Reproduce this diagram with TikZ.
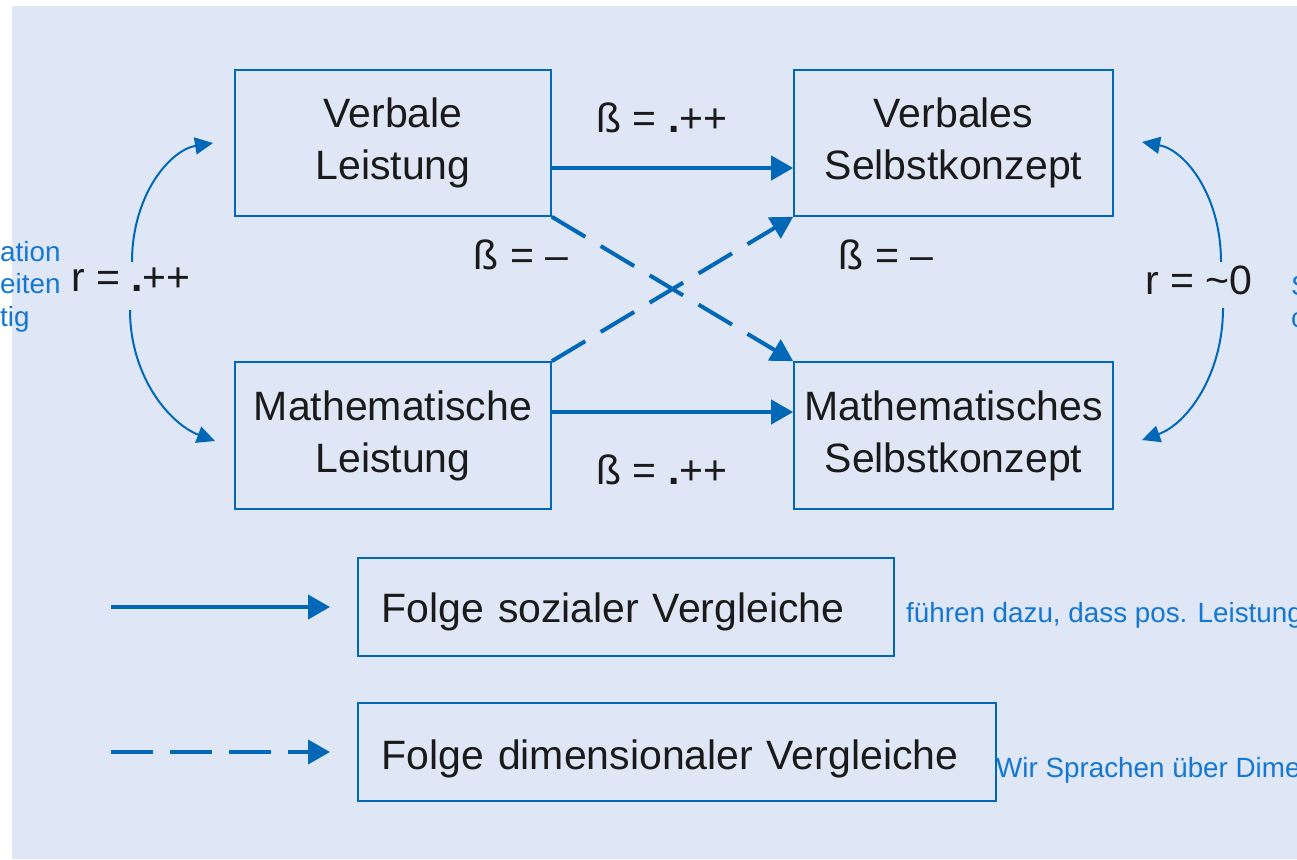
\documentclass[tikz,border=0pt]{standalone}
\usepackage{fontspec}
\setmainfont{Liberation Sans}
\usetikzlibrary{arrows.meta}
\definecolor{panel}{RGB}{223,230,245}
\definecolor{dblue}{RGB}{0,104,183}
\definecolor{tblue}{RGB}{20,120,210}
\definecolor{ink}{RGB}{26,26,26}
\begin{document}
\begin{tikzpicture}[x=1pt,y=-1pt,
 box/.style={draw=dblue,line width=1.6pt,inner sep=0pt,align=center,
   font=\fontsize{41}{52}\selectfont,text=ink},
 legbox/.style={draw=dblue,line width=1.6pt,inner xsep=24pt,inner ysep=0pt,
   minimum height=98pt,align=left,anchor=west,text depth=0pt,
   font=\fontsize{41}{52}\selectfont,text=ink},
 lbl/.style={font=\fontsize{41}{52}\selectfont,text=ink,inner sep=0pt},
 note/.style={font=\fontsize{27.8}{32.5}\selectfont,text=tblue,inner sep=0pt,anchor=base west},
 conn/.style={draw=dblue,line width=4pt,-{Triangle[length=22pt,width=24pt]}},
 dconn/.style={conn,dash pattern=on 39pt off 18pt},
 corr/.style={draw=dblue,line width=2pt,-{Triangle[length=18pt,width=17pt]}}]
\useasboundingbox (0,0) rectangle (1297,859);
\fill[panel] (12,6) rectangle (1297,859);

% main boxes
\node[box,minimum width=316pt,minimum height=146pt] (VL) at (393,143) {Verbale\\Leistung};
\node[box,minimum width=319pt,minimum height=146pt] (VS) at (953.5,143) {Verbales\\Selbstkonzept};
\node[box,minimum width=316pt,minimum height=147pt] (ML) at (393,435.5) {Mathematische\\Leistung};
\node[box,minimum width=319pt,minimum height=147pt] (MS) at (953.5,435.5) {Mathematisches\\Selbstkonzept};

% legend boxes
\node[legbox,text width=488pt,text height=31pt] (L1) at (357,607) {Folge sozialer Vergleiche};
\node[legbox,text width=590pt,text height=35pt] (L2) at (357,752) {Folge dimensionaler Vergleiche};

% labels
\node[lbl] (b1) at (662,118) {ß = \textbf{.}++};
\node[lbl] (b2) at (662,470) {ß = \textbf{.}++};
\node[lbl] (b3) at (521,255) {ß = –};
\node[lbl] (b4) at (886,255) {ß = –};
\node[lbl] (rl) at (131,280) {r = \textbf{.}++};
\node[lbl] (rr) at (1199,280) {r = \char"007E 0};

% connectors
\draw[conn] ([yshift=-25pt]VL.east) -- ([yshift=-25pt]VS.west);
\draw[conn] ([yshift=23.5pt]ML.east) -- ([yshift=23.5pt]MS.west);
\draw[dconn] (VL.south east) -- (MS.north west);
\draw[dconn] (ML.north east) -- (VS.south west);

% correlation arrows
\coordinate (lu0) at (132,262); \coordinate (lu1) at (213,143);
\coordinate (ld0) at (130,310); \coordinate (ld1) at (215,441);
\coordinate (ru0) at (1221,262); \coordinate (ru1) at (1142,142);
\coordinate (rd0) at (1223,308); \coordinate (rd1) at (1142,440);
\draw[corr] (lu0) .. controls (132,195) and (170,150) .. (lu1);
\draw[corr] (ld0) .. controls (130,377) and (170,424) .. (ld1);
\draw[corr] (ru0) .. controls (1221,195) and (1185,150) .. (ru1);
\draw[corr] (rd0) .. controls (1223,375) and (1187,424) .. (rd1);

% legend arrows
\coordinate (s1) at (111,607);
\coordinate (s2) at (111,752);
\draw[conn] (s1) -- ([xshift=-27pt]L1.west);
\draw[dconn,dash pattern=on 42pt off 17pt] (s2) -- ([xshift=-27pt]L2.west);

% blue notes
\node[note] (n1) at (906,622) {führen dazu, dass pos. Leistung};
\node[note] (n2) at (996,777) {Wir Sprachen über Dime};
\node[note] (n3) at (0,261) {ation};
\node[note] (n4) at (0,293.5) {eiten};
\node[note] (n5) at (0,326) {tig};
\node[note] (n6) at (1291,295) {S};
\node[note] (n7) at (1291,327) {c};
\end{tikzpicture}
\end{document}
